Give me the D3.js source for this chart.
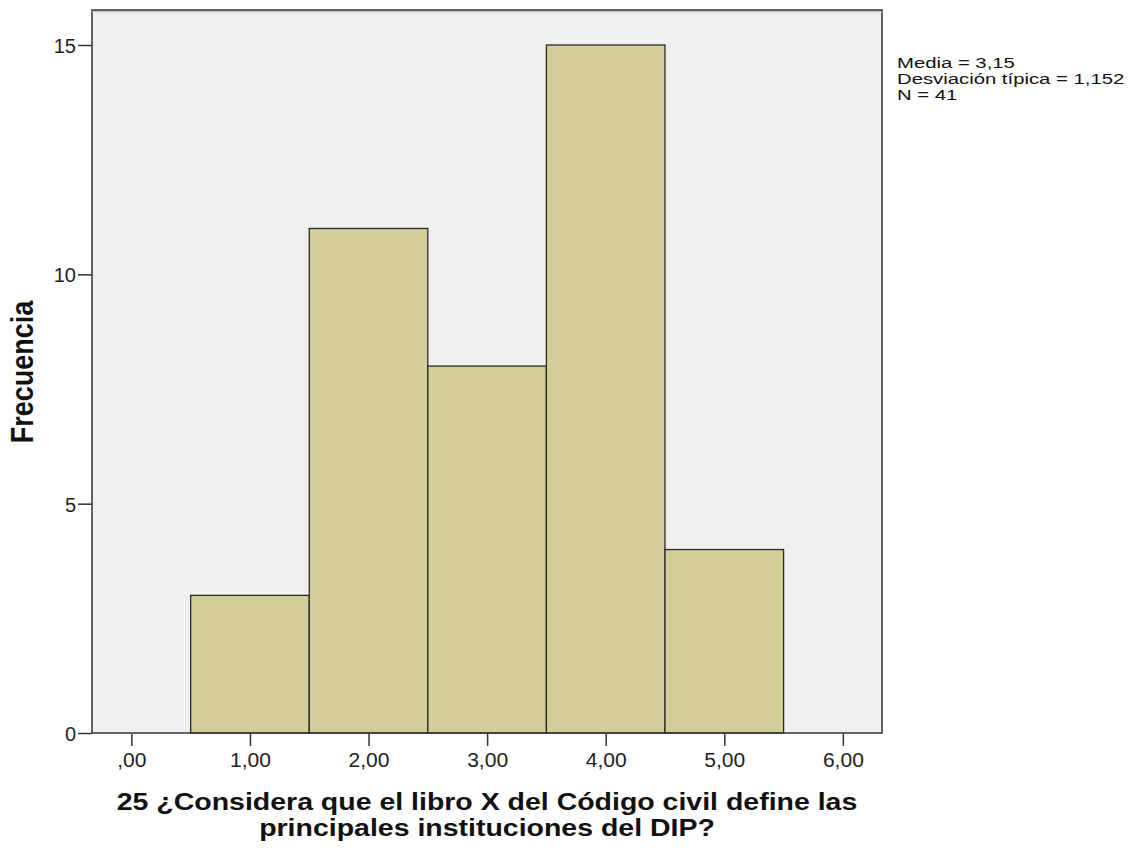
<!DOCTYPE html>
<html><head><meta charset="utf-8">
<script src="https://cdn.jsdelivr.net/npm/d3@7"></script>
<style>body{margin:0;background:#fff;} text{font-family:"Liberation Sans",Arial,sans-serif;}</style>
</head><body>
<svg id="c" width="1131" height="848"></svg>
<script>
const binStarts = [0.5, 1.5, 2.5, 3.5, 4.5];
const binEnds = [1.5, 2.5, 3.5, 4.5, 5.5];
const counts = [3, 11, 8, 15, 4];
const xTicks = [0, 1, 2, 3, 4, 5, 6];
const xTickLabels = [",00", "1,00", "2,00", "3,00", "4,00", "5,00", "6,00"];
const yTicks = [0, 5, 10, 15];
const statsLines = ["Media = 3,15", "Desviación típica = 1,152", "N = 41"];
const xTitleLines = ["25 ¿Considera que el libro X del Código civil define las", "principales instituciones del DIP?"];
const yTitle = "Frecuencia";

const svg = d3.select("#c");
const L = 92, R = 882, T = 10, B = 733;
const x = d3.scaleLinear().domain([-0.332, 6.33]).range([L, R]);
const y = d3.scaleLinear().domain([0, 15]).range([B, 45]);

svg.append("rect").attr("x", L).attr("y", T).attr("width", R - L).attr("height", B - T)
  .attr("fill", "#f0f0f0");

svg.selectAll("rect.bar").data(counts).join("rect").attr("class", "bar")
  .attr("x", (d, i) => x(binStarts[i]))
  .attr("width", (d, i) => x(binEnds[i]) - x(binStarts[i]))
  .attr("y", d => y(d))
  .attr("height", d => y(0) - y(d))
  .attr("fill", "#d3ce97").attr("stroke", "#2b2b2b").attr("stroke-width", 1.3);

svg.append("rect").attr("x", L).attr("y", T).attr("width", R - L).attr("height", B - T)
  .attr("fill", "none").attr("stroke", "#333").attr("stroke-width", 1.5);
svg.append("line").attr("x1", L).attr("x2", R).attr("y1", T + 1.5).attr("y2", T + 1.5)
  .attr("stroke", "#bbb").attr("stroke-width", 1);

// y axis
const yAxis = d3.axisLeft(y).tickValues(yTicks).tickSize(14).tickPadding(2).tickFormat(d3.format("d"));
const gy = svg.append("g").attr("transform", `translate(${L},0)`).call(yAxis);
gy.select(".domain").remove();
gy.selectAll("line").attr("stroke", "#333").attr("stroke-width", 1.5);
gy.selectAll("text").attr("font-size", 20).attr("fill", "#222").attr("dy", "0.38em")
  .attr("font-family", "Liberation Sans, Arial, sans-serif");

// x axis
const xAxis = d3.axisBottom(x).tickValues(xTicks).tickSize(12).tickPadding(7).tickFormat((d, i) => xTickLabels[i]);
const gx = svg.append("g").attr("transform", `translate(0,${B + 1})`).call(xAxis);
gx.select(".domain").remove();
gx.selectAll("line").attr("stroke", "#333").attr("stroke-width", 1.5);
gx.selectAll("text").attr("font-size", 19.5).attr("fill", "#222").attr("transform", "scale(1.08,1)")
  .attr("font-family", "Liberation Sans, Arial, sans-serif");

// titles
svg.append("text").attr("transform", `translate(33,372) scale(1.15,1) rotate(-90)`)
  .attr("text-anchor", "middle").attr("font-size", 27).attr("font-weight", "bold").attr("fill", "#111")
  .text(yTitle);

svg.selectAll("text.xt").data(xTitleLines).join("text").attr("class", "xt")
  .attr("transform", (d, i) => `translate(${(L + R) / 2},${810 + i * 26}) scale(1.187,1)`)
  .attr("text-anchor", "middle").attr("font-size", 24).attr("font-weight", "bold").attr("fill", "#111")
  .text(d => d);

svg.selectAll("text.st").data(statsLines).join("text").attr("class", "st")
  .attr("transform", (d, i) => `translate(897,${67.5 + i * 16}) scale(1.31,1)`)
  .attr("font-size", 15.5).attr("fill", "#111")
  .text(d => d);
</script>
</body></html>
